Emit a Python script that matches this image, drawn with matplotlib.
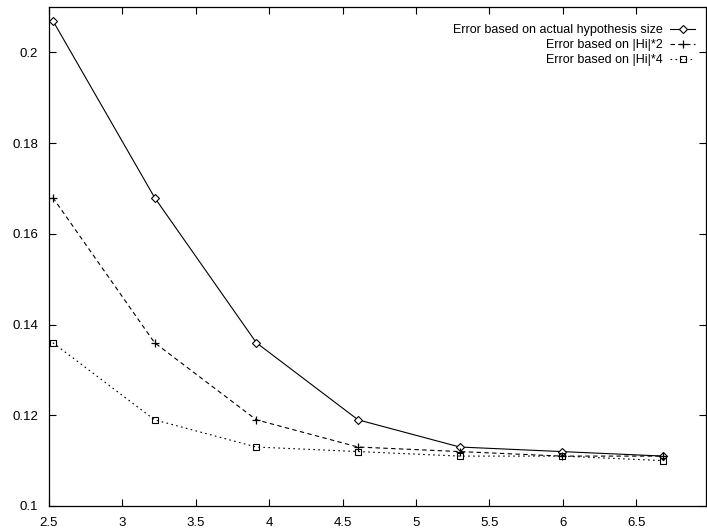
import matplotlib
matplotlib.use("Agg")
import matplotlib.pyplot as plt

plt.rcParams['font.family'] = ['Liberation Sans', 'DejaVu Sans']

# data
x_vals = [2.526, 3.219, 3.912, 4.605, 5.298, 5.991, 6.685]
err_actual = [0.207, 0.168, 0.136, 0.119, 0.113, 0.112, 0.111]
err_hi2 = [0.168, 0.136, 0.119, 0.113, 0.112, 0.111, 0.111]
err_hi4 = [0.136, 0.119, 0.113, 0.112, 0.111, 0.111, 0.110]
labels = ["Error based on actual hypothesis size",
          "Error based on |Hi|*2",
          "Error based on |Hi|*4"]
xticks = [2.5, 3, 3.5, 4, 4.5, 5, 5.5, 6, 6.5]
xtick_labels = ["2.5", "3", "3.5", "4", "4.5", "5", "5.5", "6", "6.5"]
yticks = [0.1, 0.12, 0.14, 0.16, 0.18, 0.2]
ytick_labels = ["0.1", "0.12", "0.14", "0.16", "0.18", "0.2"]

W, H = 707, 532
fig = plt.figure(figsize=(W / 100, H / 100), dpi=100)
left, right, top, bottom = 49, 706, 7, 506
ax = fig.add_axes([left / W, (H - bottom) / H, (right - left) / W, (bottom - top) / H])

lw = 0.8
ax.plot(x_vals, err_actual, color='black', lw=lw, linestyle='-',
        marker='D', markersize=3.6, markerfacecolor='white', markeredgecolor='black',
        markeredgewidth=0.8, label=labels[0])
ax.plot(x_vals, err_hi2, color='black', lw=lw, linestyle=(0, (4, 3)),
        marker='+', markersize=6, markeredgewidth=0.9, label=labels[1])
ax.plot(x_vals, err_hi4, color='black', lw=lw, linestyle=(0, (1.5, 3)),
        marker='s', markersize=5, markerfacecolor='none', markeredgecolor='black',
        markeredgewidth=0.8, label=labels[2])

ax.set_xlim(2.5, 6.975)
ax.set_ylim(0.1, 0.21)
ax.set_xticks(xticks)
ax.set_xticklabels(xtick_labels)
ax.set_yticks(yticks)
ax.set_yticklabels(ytick_labels)
ax.tick_params(direction='in', length=5, width=0.8, top=True, right=True,
               labelsize=9.5, colors='black')
ax.tick_params(axis='x', pad=8)
ax.tick_params(axis='y', pad=8)
for s in ax.spines.values():
    s.set_linewidth(0.9)
    s.set_color('black')

leg = ax.legend(loc='upper right', markerfirst=False, frameon=False,
                fontsize=9, handlelength=2.0, handletextpad=0.6,
                labelspacing=0.25, borderpad=0, borderaxespad=0,
                bbox_to_anchor=((695 - left) / (right - left), 1 - (24 - top) / (bottom - top)))

fig.savefig("out.png", dpi=100)
